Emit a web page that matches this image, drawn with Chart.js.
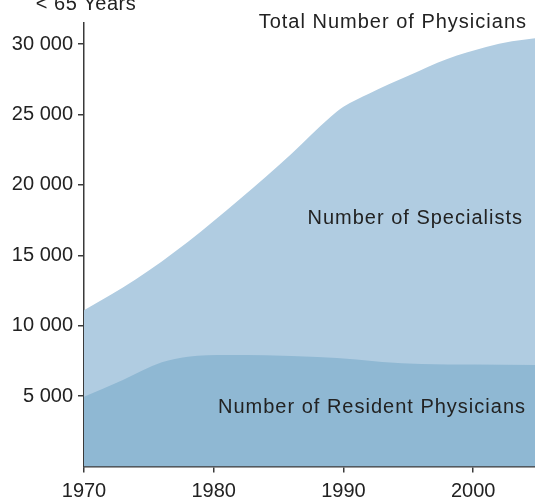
<!DOCTYPE html>
<html>
<head>
<meta charset="utf-8">
<script src="https://cdn.jsdelivr.net/npm/chart.js@4.4.1/dist/chart.umd.min.js"></script>
<style>
    html, body { margin: 0; padding: 0; background: #fff; }
    #wrap { width: 535px; height: 499px; position: relative; }
</style>
</head>
<body>
<div id="wrap"><canvas id="physChart"></canvas></div>
<script>
/* Values */
const totalYears = [1970, 1974, 1978, 1982, 1986, 1989, 1990, 1992, 1995, 1998, 2001, 2003, 2005];
const totalValues = [11100, 13300, 15950, 18980, 22220, 24820, 25550, 26500, 27750, 28950, 29800, 30200, 30450];
const residentYears = [1970, 1973, 1976, 1978, 1981, 1984, 1988, 1991, 1993, 1996, 2000, 2005];
const residentValues = [4950, 6150, 7400, 7800, 7920, 7900, 7770, 7600, 7420, 7280, 7240, 7200];
const xTicks = [1970, 1980, 1990, 2000];
const yTicks = [5000, 10000, 15000, 20000, 25000, 30000];

const COLORS = {
    total: "#b0cce1",
    resident: "#8fb8d3",
    axis: "#3a3a3a",
    text: "#222",
};
const FONT = "'Liberation Sans', Arial, sans-serif";

/* Text labels placed inside the plot */
const labelsPlugin = {
    id: "areaLabels",
    afterDraw(chart) {
        const ctx = chart.ctx;
        ctx.save();
        ctx.fillStyle = COLORS.text;
        ctx.font = "20px " + FONT;
        ctx.letterSpacing = "1px";
        ctx.textBaseline = "alphabetic";
        ctx.textAlign = "right";
        ctx.fillText("Total Number of Physicians", 527, 28);
        ctx.fillText("Number of Specialists", 523, 224);
        ctx.fillText("Number of Resident Physicians", 526, 413);
        ctx.letterSpacing = "0.5px";
        ctx.textAlign = "center";
        ctx.fillText("< 65 Years", 86, 10);
        ctx.restore();
    },
};

new Chart(document.getElementById("physChart"), {
    type: "line",
    data: {
        datasets: [
            {
                data: residentYears.map((y, i) => ({ x: y, y: residentValues[i] })),
                backgroundColor: COLORS.resident,
                borderWidth: 0,
                fill: "origin",
                pointRadius: 0,
                cubicInterpolationMode: "monotone",
            },
            {
                data: totalYears.map((y, i) => ({ x: y, y: totalValues[i] })),
                backgroundColor: COLORS.total,
                borderWidth: 0,
                fill: "origin",
                pointRadius: 0,
                cubicInterpolationMode: "monotone",
            },
        ],
    },
    options: {
        responsive: true,
        maintainAspectRatio: false,
        animation: false,
        layout: { padding: { top: 23, right: 0, left: 0, bottom: 0 } },
        plugins: { legend: { display: false }, tooltip: { enabled: false } },
        scales: {
            x: {
                type: "linear",
                min: 1970,
                max: 2004.77,
                afterBuildTicks: axis => { axis.ticks = xTicks.map(v => ({ value: v })); },
                afterFit: axis => { axis.height = 32.5; },
                grid: { drawOnChartArea: false, drawTicks: true, tickLength: 6, color: COLORS.axis, lineWidth: 1.5 },
                border: { color: COLORS.axis, width: 1.5 },
                ticks: {
                    color: COLORS.text,
                    font: { family: FONT, size: 20 },
                    padding: 7,
                    maxRotation: 0,
                    callback: v => String(v),
                },
            },
            y: {
                min: 0,
                max: 31500,
                afterBuildTicks: axis => { axis.ticks = yTicks.map(v => ({ value: v })); },
                afterFit: axis => { axis.width = 84; },
                grid: { drawOnChartArea: false, drawTicks: true, tickLength: 6, color: COLORS.axis, lineWidth: 1.5 },
                border: { color: COLORS.axis, width: 1.5 },
                ticks: {
                    color: COLORS.text,
                    font: { family: FONT, size: 20 },
                    padding: 5,
                    callback: v => String(v).replace(/\B(?=(\d{3})+(?!\d))/g, " "),
                },
            },
        },
    },
    plugins: [labelsPlugin],
});
</script>
</body>
</html>
